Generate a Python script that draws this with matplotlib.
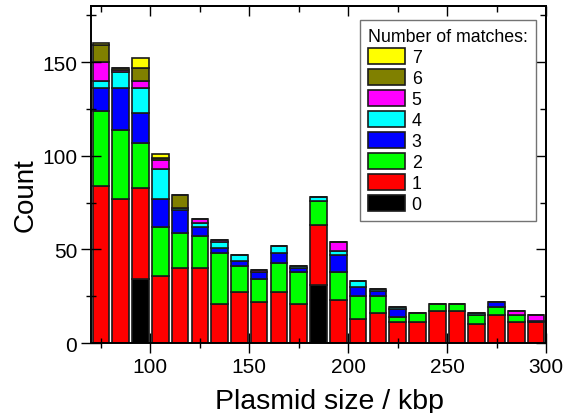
import matplotlib.pyplot as plt
import numpy as np
from matplotlib.ticker import MultipleLocator

plt.rcParams['font.family'] = ['Liberation Sans', 'DejaVu Sans']

# plasmid size bins (kbp, bin centres)
sizes = [75, 85, 95, 105, 115, 125, 135, 145, 155, 165, 175, 185,
         195, 205, 215, 225, 235, 245, 255, 265, 275, 285, 295]

# counts per bin for each number of matches
m0 = [0, 0, 34, 0, 0, 0, 0, 0, 0, 0, 0, 31, 0, 0, 0, 0, 0, 0, 0, 0, 0, 0, 0]
m1 = [84, 77, 49, 36, 40, 40, 21, 27, 22, 27, 21, 32, 23, 13, 16, 11, 11, 17, 17, 10, 15, 11, 11]
m2 = [40, 37, 24, 26, 19, 17, 27, 14, 12, 16, 17, 13, 15, 12, 9, 3, 5, 4, 4, 5, 4, 4, 1]
m3 = [12, 22, 16, 15, 12, 5, 3, 3, 4, 5, 2, 0, 9, 5, 3, 4, 0, 0, 0, 0, 3, 0, 0]
m4 = [4, 9, 13, 16, 1, 2, 3, 3, 0, 4, 1, 2, 2, 3, 1, 1, 0, 0, 0, 1, 0, 0, 0]
m5 = [10, 1, 4, 5, 0, 2, 1, 0, 1, 0, 0, 0, 5, 0, 0, 0, 0, 0, 0, 0, 0, 2, 3]
m6 = [9, 1, 7, 1, 7, 0, 0, 0, 0, 0, 0, 0, 0, 0, 0, 0, 0, 0, 0, 0, 0, 0, 0]
m7 = [1, 0, 5, 2, 0, 0, 0, 0, 0, 0, 0, 0, 0, 0, 0, 0, 0, 0, 0, 0, 0, 0, 0]

labels = ['0', '1', '2', '3', '4', '5', '6', '7']
colors = ['#000000', '#ff0000', '#00ff00', '#0000ff', '#00ffff',
          '#ff00ff', '#808000', '#ffff00']

fig = plt.figure(figsize=(5.67, 4.14), dpi=100)
ax = fig.add_axes([0.1605, 0.169, 0.8025, 0.814])

bottom = np.zeros(len(sizes))
handles = []
for vals, lab, col in zip([m0, m1, m2, m3, m4, m5, m6, m7], labels, colors):
    b = ax.bar(sizes, vals, width=8.4, bottom=bottom, color=col,
               edgecolor='#1a1a1a', linewidth=1.2, label=lab)
    handles.append(b)
    bottom += np.array(vals)

ax.set_xlim(70, 300)
ax.set_ylim(0, 180)

ax.xaxis.set_major_locator(MultipleLocator(50))
ax.xaxis.set_minor_locator(MultipleLocator(25))
ax.yaxis.set_major_locator(MultipleLocator(50))
ax.yaxis.set_minor_locator(MultipleLocator(25))

ax.tick_params(which='major', direction='inout', length=14, width=1,
               labelsize=15, pad=3)
ax.tick_params(which='minor', direction='inout', length=7, width=1)

# inward ticks on top and right
top = ax.secondary_xaxis('top')
top.xaxis.set_major_locator(MultipleLocator(50))
top.xaxis.set_minor_locator(MultipleLocator(25))
top.tick_params(which='major', direction='in', length=7, width=1, labeltop=False)
top.tick_params(which='minor', direction='in', length=4, width=1)
right = ax.secondary_yaxis('right')
right.yaxis.set_major_locator(MultipleLocator(50))
right.yaxis.set_minor_locator(MultipleLocator(25))
right.tick_params(which='major', direction='in', length=7, width=1, labelright=False)
right.tick_params(which='minor', direction='in', length=4, width=1)

for s in list(ax.spines.values()) + [top.spines['top'], right.spines['right']]:
    s.set_linewidth(1.4)

ax.set_xlabel('Plasmid size / kbp', fontsize=20.5)
ax.set_ylabel('Count', fontsize=20)
ax.xaxis.set_label_coords(0.525, -0.132)
ax.yaxis.set_label_coords(-0.116, 0.442)

leg = ax.legend(handles[::-1], labels[::-1], title='Number of matches:',
                loc='upper right', bbox_to_anchor=(0.978, 0.958),
                fontsize=12.8, title_fontsize=12.8, alignment='left',
                fancybox=False, framealpha=1, edgecolor='0.45',
                handlelength=2.1, handleheight=0.95, handletextpad=0.35,
                labelspacing=0.18, borderpad=0.45, borderaxespad=0)
leg.get_frame().set_linewidth(1)

fig.savefig('out.png', dpi=100)
